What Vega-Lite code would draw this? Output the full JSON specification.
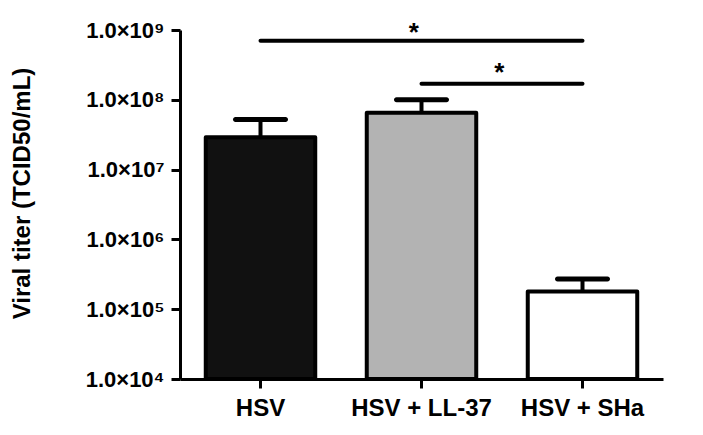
{
  "$schema": "https://vega.github.io/schema/vega-lite/v6.json",
  "width": 483,
  "height": 349,
  "autosize": {"type": "none"},
  "padding": {"left": 180, "top": 30, "right": 40, "bottom": 56},
  "background": "white",
  "config": {"view": {"stroke": null}, "font": "Liberation Sans"},
  "datasets": {
    "bars": [
      {"group": "HSV", "titer": 29000000, "upper": 52000000},
      {"group": "HSV + LL-37", "titer": 65000000, "upper": 100000000},
      {"group": "HSV + SHa", "titer": 180000, "upper": 270000}
    ],
    "sig": [
      {"from": "HSV", "to": "HSV + SHa", "y": 700000000},
      {"from": "HSV + LL-37", "to": "HSV + SHa", "y": 170000000}
    ]
  },
  "layer": [
    {
      "data": {"name": "bars"},
      "mark": {"type": "rule", "strokeWidth": 4, "color": "black"},
      "encoding": {
        "x": {"field": "group", "type": "nominal"},
        "y": {"field": "titer", "type": "quantitative"},
        "y2": {"field": "upper"}
      }
    },
    {
      "data": {"name": "bars"},
      "mark": {"type": "tick", "thickness": 5, "size": 55, "color": "black", "opacity": 1, "cornerRadius": 2.5},
      "encoding": {
        "x": {"field": "group", "type": "nominal"},
        "y": {"field": "upper", "type": "quantitative"}
      }
    },
    {
      "data": {"name": "bars"},
      "mark": {"type": "bar", "stroke": "black", "strokeWidth": 4, "strokeJoin": "round"},
      "encoding": {
        "x": {
          "field": "group",
          "type": "nominal",
          "sort": null,
          "scale": {"paddingInner": 0.32, "paddingOuter": 0.16},
          "axis": {
            "title": null,
            "labelAngle": 0,
            "labelAlign": "center",
            "labelBaseline": "top",
            "labelFont": "Liberation Sans",
            "labelFontWeight": "bold",
            "labelFontSize": 24,
            "labelColor": "black",
            "labelPadding": 8,
            "labelLimit": 300,
            "domainColor": "black",
            "domainWidth": 3,
            "tickColor": "black",
            "tickWidth": 3,
            "tickSize": 9
          }
        },
        "y": {
          "field": "titer",
          "type": "quantitative",
          "scale": {"type": "log", "domain": [10000, 1000000000], "nice": false},
          "axis": {
            "title": "Viral titer (TCID50/mL)",
            "titleFont": "Liberation Sans",
            "titleFontWeight": "bold",
            "titleFontSize": 24,
            "titleColor": "black",
            "titlePadding": 51,
            "titleY": 163,
            "values": [10000, 100000, 1000000, 10000000, 100000000, 1000000000],
            "labelExpr": "'1.0×10' + ['⁰','¹','²','³','⁴','⁵','⁶','⁷','⁸','⁹'][round(log(datum.value)/LN10)]",
            "labelFont": "Liberation Sans",
            "labelFontWeight": "bold",
            "labelFontSize": 22,
            "labelColor": "black",
            "labelPadding": 7,
            "labelLimit": 300,
            "domainColor": "black",
            "domainWidth": 3,
            "tickColor": "black",
            "tickWidth": 3,
            "tickSize": 9,
            "grid": false
          }
        },
        "y2": {"datum": 10000},
        "fill": {
          "field": "group",
          "type": "nominal",
          "scale": {"domain": ["HSV", "HSV + LL-37", "HSV + SHa"], "range": ["#111111", "#b3b3b3", "#ffffff"]},
          "legend": null
        }
      }
    },
    {
      "data": {"name": "sig"},
      "mark": {"type": "rule", "strokeWidth": 4, "color": "black", "strokeCap": "round"},
      "encoding": {
        "x": {"field": "from", "type": "nominal"},
        "x2": {"field": "to"},
        "y": {"field": "y", "type": "quantitative"}
      }
    },
    {
      "data": {"values": [{"g": "HSV + LL-37", "y": 910000000, "s": "*"}]},
      "mark": {"type": "text", "fontSize": 26, "fontWeight": "bold", "baseline": "middle", "clip": false, "font": "Liberation Sans"},
      "encoding": {
        "x": {"field": "g", "type": "nominal", "bandPosition": 0.43},
        "y": {"field": "y", "type": "quantitative"},
        "text": {"field": "s"}
      }
    },
    {
      "data": {"values": [{"g": "HSV + LL-37", "y": 240000000, "s": "*"}]},
      "mark": {"type": "text", "fontSize": 26, "fontWeight": "bold", "baseline": "middle", "clip": false, "font": "Liberation Sans"},
      "encoding": {
        "x": {"field": "g", "type": "nominal", "bandPosition": 1.21},
        "y": {"field": "y", "type": "quantitative"},
        "text": {"field": "s"}
      }
    }
  ]
}
